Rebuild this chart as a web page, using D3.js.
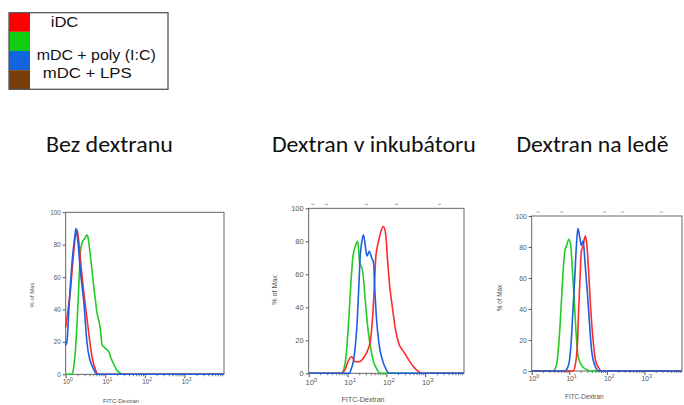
<!DOCTYPE html>
<html>
<head>
<meta charset="utf-8">
<script src="https://cdn.jsdelivr.net/npm/d3@7"></script>
<style>
  body { margin: 0; background: #fff; }
  svg { display: block; }
</style>
</head>
<body>
<svg id="chart" width="684" height="405"></svg>
<script>
// legend
var legendColors = ["#ff0000", "#11cc11", "#1166dd", "#7a3d0c"];
var legendLabels = ["iDC", "mDC + poly (I:C)", "mDC + LPS"];

var panelTitles = ["Bez dextranu", "Dextran v inkubátoru", "Dextran na ledě"];
var yTicks = [0, 20, 40, 60, 80, 100];
var xTicks = [0, 1, 2, 3];   // exponents of 10
var yTitle = "% of Max";
var xTitle = "FITC-Dextran";

// [log10 FITC, % of max]
var bezGreen = [[0,0],[0.16,0],[0.2,4],[0.24,13],[0.29,33],[0.33,54],[0.37,75],[0.41,81],[0.45,83],[0.49,84],[0.53,86],[0.56,85],[0.59,80],[0.62,74],[0.67,63],[0.71,54],[0.75,46],[0.79,38],[0.84,33],[0.88,27],[0.92,18],[0.96,17],[1.0,16],[1.05,15],[1.09,14],[1.13,11],[1.18,8],[1.22,6],[1.28,3],[1.34,1.5],[1.45,0],[4,0]];
var bezRed = [[0,29],[0.06,40],[0.12,52],[0.2,75],[0.25,86],[0.29,89],[0.33,82],[0.39,66],[0.45,52],[0.5,42],[0.56,30],[0.62,18],[0.68,9],[0.75,3],[0.82,0],[4,0]];
var bezBlue = [[0,18],[0.03,20],[0.09,44],[0.16,69],[0.23,85],[0.26,90],[0.3,84],[0.37,64],[0.46,44],[0.54,19],[0.6,10],[0.67,5],[0.73,2],[0.79,0],[4,0]];

var inkGreen = [[0,0],[0.84,0],[0.91,3],[0.97,12],[1.03,32],[1.08,52],[1.14,71],[1.2,77],[1.26,80],[1.29,74],[1.31,67],[1.35,65],[1.39,62],[1.45,46],[1.52,28],[1.59,16],[1.67,7],[1.77,2],[1.85,0],[4,0]];
var inkRed = [[0,0],[0.85,0],[0.95,3],[1.01,7],[1.11,10],[1.2,7],[1.31,7],[1.43,10],[1.52,14],[1.59,20],[1.64,32],[1.69,52],[1.73,71],[1.79,79],[1.86,86],[1.92,89],[1.98,85],[2.03,69],[2.09,52],[2.15,41],[2.24,26],[2.32,18],[2.45,13],[2.58,8],[2.7,4],[2.83,1],[2.92,0],[4,0]];
var inkBlue = [[0,0],[1.05,0],[1.1,3],[1.14,6],[1.18,12],[1.25,32],[1.29,52],[1.33,72],[1.37,80],[1.41,84],[1.46,77],[1.5,71],[1.56,74],[1.62,70],[1.67,67],[1.7,52],[1.75,32],[1.81,18],[1.9,8],[1.98,3],[2.07,0],[4,0]];

var ledGreen = [[0,0],[0.57,0],[0.66,4],[0.72,17],[0.78,40],[0.84,66],[0.88,77],[0.93,81],[0.99,85],[1.04,81],[1.08,66],[1.13,47],[1.18,25],[1.23,10],[1.32,4],[1.45,1],[1.55,0],[4,0]];
var ledRed = [[0,0],[1.1,0],[1.16,4],[1.22,19],[1.25,40],[1.29,62],[1.32,77],[1.37,81],[1.41,86],[1.43,87],[1.47,81],[1.52,62],[1.57,40],[1.63,21],[1.69,8],[1.78,2],[1.87,0],[4,0]];
var ledBlue = [[0,0],[0.88,0],[0.97,3],[1.04,15],[1.1,40],[1.15,62],[1.19,81],[1.23,92],[1.28,86],[1.32,81],[1.37,84],[1.41,73],[1.48,51],[1.54,30],[1.6,12],[1.69,3],[1.78,0],[4,0]];

// stray marks above the plot frame in the scanned panels (log10 positions)
var strayMarks = [[], [0.11, 0.46, 1.49, 2.26, 3.37], [0.17, 0.8, 1.94, 2.42, 3.45]];

var lineColors = ["#22cc22", "#ff2a2a", "#1a60e0"];
var panelData = [
  [bezGreen, bezRed, bezBlue],
  [inkGreen, inkRed, inkBlue],
  [ledGreen, ledRed, ledBlue]
];

var svg = d3.select("#chart");

// ---- legend ----
var lg = svg.append("g");
var rowH = 76.6 / legendColors.length;
lg.selectAll("rect.sw")
  .data(legendColors)
  .enter().append("rect")
    .attr("class", "sw")
    .attr("x", 9)
    .attr("y", function(d, i) { return 12.7 + i * rowH; })
    .attr("width", 21)
    .attr("height", rowH)
    .style("fill", function(d) { return d; });
lg.append("rect")
  .attr("x", 9).attr("y", 12.7)
  .attr("width", 159).attr("height", 76.6)
  .style("fill", "none")
  .style("stroke", "#555")
  .style("stroke-width", 1.3);
var legendPos = [[50.7, 27.3, 27.7], [36.7, 60, 119], [42.7, 78.3, 89]];
lg.selectAll("text")
  .data(legendLabels)
  .enter().append("text")
    .attr("x", function(d, i) { return legendPos[i][0]; })
    .attr("y", function(d, i) { return legendPos[i][1]; })
    .attr("textLength", function(d, i) { return legendPos[i][2]; })
    .attr("lengthAdjust", "spacingAndGlyphs")
    .style("font-family", "Liberation Sans, Arial, sans-serif")
    .style("font-size", "14px")
    .style("fill", "#111")
    .text(function(d) { return d; });

// ---- titles ----
var titlePos = [[109.4, 127], [373.9, 204], [592.5, 152]];
svg.selectAll("text.title")
  .data(panelTitles)
  .enter().append("text")
    .attr("class", "title")
    .attr("x", function(d, i) { return titlePos[i][0] - titlePos[i][1] / 2; })
    .attr("y", 152.3)
    .attr("textLength", function(d, i) { return titlePos[i][1]; })
    .attr("lengthAdjust", "spacingAndGlyphs")
    .style("font-family", "Carlito, Calibri, Lato, sans-serif")
    .style("font-size", "21.5px")
    .style("fill", "#111")
    .text(function(d) { return d; });

// ---- panels ----
var layout = [
  { left: 65.7,  top: 212.3, w: 158.3, h: 162,   fs: 6.3, yLabX: 31.7,  yLabY: 295, xLabY: 403 },
  { left: 308.7, top: 208.3, w: 155.3, h: 165,   fs: 7.5, yLabX: 274.7, yLabY: 290, xLabY: 402 },
  { left: 531.7, top: 216,   w: 150.3, h: 155,   fs: 6.7, yLabX: 499.5, yLabY: 298, xLabY: 398.5 }
];

layout.forEach(function(p, pi) {
  var g = svg.append("g").attr("transform", "translate(" + p.left + "," + p.top + ")");
  var x = d3.scaleLog().domain([1, 10000]).range([0, p.w]);
  var y = d3.scaleLinear().domain([0, 100]).range([p.h, 0]);

  // minor ticks
  var minor = [];
  for (var e = 0; e < 4; e++) for (var m = 2; m < 10; m++) minor.push(m * Math.pow(10, e));
  g.append("g")
    .attr("transform", "translate(0," + p.h + ")")
    .call(d3.axisBottom(x).tickValues(minor).tickSize(2).tickFormat(""))
    .call(function(a) { a.select(".domain").remove(); a.selectAll("line").style("stroke", "#777"); });

  var xa = g.append("g")
    .attr("transform", "translate(0," + p.h + ")")
    .call(d3.axisBottom(x).tickValues(xTicks.map(function(e) { return Math.pow(10, e); }))
      .tickSize(4).tickFormat(""));
  xa.select(".domain").remove();
  xa.selectAll("line").style("stroke", "#555");
  var xl = g.selectAll("text.xt")
    .data(xTicks)
    .enter().append("text")
      .attr("class", "xt")
      .attr("x", function(d) { return x(Math.pow(10, d)) + p.fs * 0.35; })
      .attr("y", p.h + p.fs * 1.55)
      .attr("text-anchor", "middle")
      .style("font-family", "Liberation Sans, Arial, sans-serif")
      .style("font-size", p.fs + "px")
      .style("fill", "#555");
  xl.append("tspan").text("10");
  xl.append("tspan")
    .attr("dy", -p.fs * 0.45)
    .style("font-size", (p.fs * 0.8) + "px")
    .text(function(d) { return d; });

  var ya = g.append("g")
    .call(d3.axisLeft(y).tickValues(yTicks).tickSize(3).tickPadding(2));
  ya.select(".domain").remove();
  ya.selectAll("line").style("stroke", "#555");
  ya.selectAll("text")
    .style("font-family", "Liberation Sans, Arial, sans-serif")
    .style("font-size", p.fs + "px")
    .style("fill", "#555");

  // stray marks above the frame
  g.selectAll("line.stray")
    .data(strayMarks[pi])
    .enter().append("line")
      .attr("class", "stray")
      .attr("x1", function(d) { return x(Math.pow(10, d)) - 1.5; })
      .attr("x2", function(d) { return x(Math.pow(10, d)) + 1.5; })
      .attr("y1", -4).attr("y2", -4)
      .style("stroke", "#888")
      .style("stroke-width", 0.8);

  // frame
  g.append("rect")
    .attr("width", p.w).attr("height", p.h)
    .style("fill", "none")
    .style("stroke", "#555")
    .style("stroke-width", 0.9);

  // curves
  var line = d3.line()
    .x(function(d) { return x(Math.pow(10, d[0])); })
    .y(function(d) { return y(d[1]); })
    .curve(d3.curveMonotoneX);
  panelData[pi].forEach(function(s, si) {
    g.append("path")
      .datum(s)
      .attr("d", line)
      .style("fill", "none")
      .style("stroke", lineColors[si])
      .style("stroke-width", 1.6)
      .style("stroke-linejoin", "round");
  });

  // axis titles
  svg.append("text")
    .attr("transform", "translate(" + p.yLabX + "," + p.yLabY + ") rotate(-90)")
    .attr("text-anchor", "middle")
    .attr("dy", "0.35em")
    .style("font-family", "Liberation Sans, Arial, sans-serif")
    .style("font-size", (p.fs * 0.95) + "px")
    .style("fill", "#555")
    .text(yTitle);
  svg.append("text")
    .attr("x", p.left + x(Math.pow(10, 1.4)))
    .attr("y", p.xLabY)
    .attr("text-anchor", "middle")
    .style("font-family", "Liberation Sans, Arial, sans-serif")
    .style("font-size", (p.fs * 0.95) + "px")
    .style("fill", "#555")
    .text(xTitle);
});
</script>
</body>
</html>
